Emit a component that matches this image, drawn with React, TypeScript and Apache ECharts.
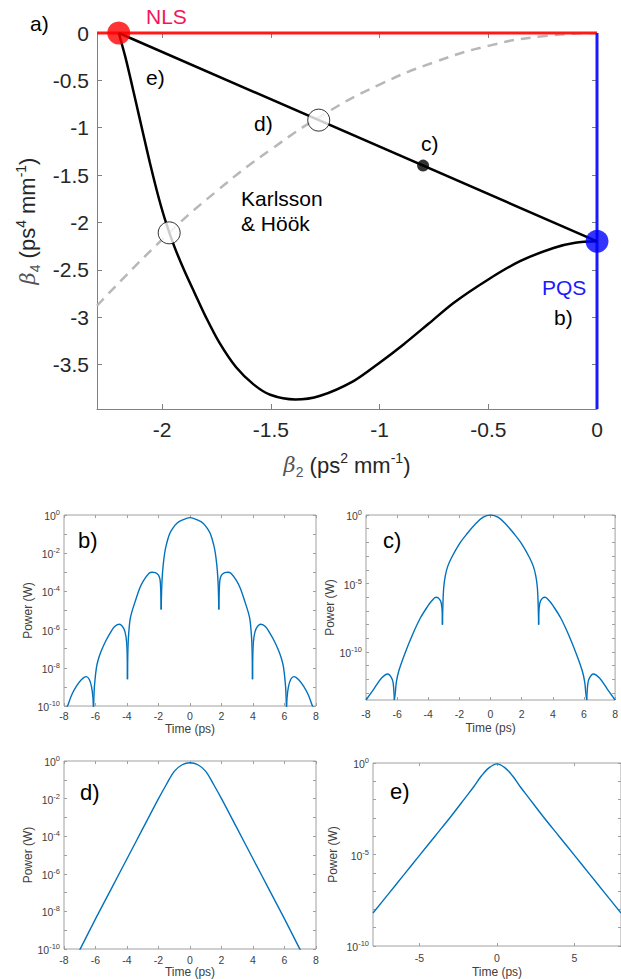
import React, { useEffect, useRef } from 'react';
import * as echarts from 'echarts';

// ---------- main panel a) data ----------
const khBeta2 = [-2.2, -2.17, -2.144, -2.119, -2.094, -2.069, -2.043, -2.015, -1.983, -1.945, -1.9, -1.85, -1.799, -1.737, -1.66, -1.58, -1.503, -1.388, -1.273, -1.12, -1.0, -0.89, -0.775, -0.66, -0.5, -0.354, -0.2, -0.1, 0];
const khBeta4 = [0, -0.25, -0.5, -0.75, -1.0, -1.25, -1.5, -1.75, -2.0, -2.25, -2.5, -2.75, -3.0, -3.27, -3.53, -3.71, -3.82, -3.87, -3.83, -3.675, -3.481, -3.288, -3.07, -2.85, -2.602, -2.409, -2.27, -2.215, -2.2];
const dashBeta2 = [-2.3, -2.0, -1.75, -1.5, -1.25, -1.0, -0.75, -0.5, -0.25, 0];
const dashBeta4 = [-2.88, -2.18, -1.67, -1.23, -0.85, -0.545, -0.31, -0.136, -0.034, 0];
const chordBeta2 = [-2.2, 0];
const chordBeta4 = [0, -2.2];
const nlsLineBeta2 = [-2.3, 0];
const pqsLineBeta4 = [0, -3.97];
const nlsPoint = [-2.2, 0];
const pqsPoint = [0, -2.2];
const openPoints = [[-1.28, -0.92], [-1.968, -2.11]];
const cPoint = [-0.8, -1.4];
const mainXTicks = [-2, -1.5, -1, -0.5, 0];
const mainYTicks = [0, -0.5, -1, -1.5, -2, -2.5, -3, -3.5];

// ---------- panel b) : time (ps), log10 power (W) ----------
const bTime = [-8, -7.8, -7.5, -7.2, -6.9, -6.6, -6.4, -6.25, -6.16, -6.13, -6.09, -6.04, -5.93, -5.8, -5.61, -5.35, -5.08, -4.8, -4.5, -4.2, -4.06, -4.0, -3.97, -3.94, -3.9, -3.81, -3.7, -3.49, -3.2, -2.96, -2.6, -2.4, -2.2, -2.0, -1.9, -1.86, -1.83, -1.8, -1.76, -1.7, -1.6, -1.5, -1.3, -1.1, -0.85, -0.5, 0, 0.5, 0.85, 1.1, 1.3, 1.5, 1.6, 1.7, 1.76, 1.8, 1.83, 1.86, 1.9, 2.0, 2.2, 2.4, 2.6, 2.96, 3.2, 3.49, 3.7, 3.81, 3.9, 3.94, 3.97, 4.0, 4.06, 4.2, 4.5, 4.8, 5.08, 5.35, 5.61, 5.8, 5.93, 6.04, 6.09, 6.13, 6.16, 6.25, 6.4, 6.6, 6.9, 7.2, 7.5, 7.8, 8];
const bLogPower = [-10.4, -10.05, -9.4, -8.95, -8.62, -8.46, -8.6, -9.0, -9.6, -10.4, -9.3, -8.7, -7.94, -7.5, -7.07, -6.6, -6.2, -5.85, -5.72, -5.95, -6.4, -7.0, -8.6, -7.0, -6.3, -5.5, -5.1, -4.55, -3.85, -3.45, -3.05, -3.0, -3.02, -3.15, -3.4, -3.9, -4.95, -3.9, -3.2, -2.6, -1.95, -1.55, -1.0, -0.7, -0.44, -0.27, -0.14, -0.27, -0.44, -0.7, -1.0, -1.55, -1.95, -2.6, -3.2, -3.9, -4.95, -3.9, -3.4, -3.15, -3.02, -3.0, -3.05, -3.45, -3.85, -4.55, -5.1, -5.5, -6.3, -7.0, -8.6, -7.0, -6.4, -5.95, -5.72, -5.85, -6.2, -6.6, -7.07, -7.5, -7.94, -8.7, -9.3, -10.4, -9.6, -9.0, -8.6, -8.46, -8.62, -8.95, -9.4, -10.05, -10.4];

// ---------- panel c) ----------
const cTime = [-8, -7.5, -7.0, -6.6, -6.35, -6.25, -6.18, -6.12, -6.05, -5.9, -5.5, -5.0, -4.5, -4.0, -3.8, -3.5, -3.35, -3.2, -3.12, -3.09, -3.05, -3.0, -2.9, -2.75, -2.5, -2.0, -1.5, -1.0, -0.5, 0, 0.5, 1.0, 1.5, 2.0, 2.5, 2.75, 2.9, 3.0, 3.05, 3.09, 3.12, 3.2, 3.35, 3.5, 3.8, 4.0, 4.5, 5.0, 5.5, 5.9, 6.05, 6.12, 6.18, 6.25, 6.35, 6.6, 7.0, 7.5, 8];
const cLogPower = [-13.5, -12.7, -11.9, -11.6, -11.9, -12.3, -13.5, -13.0, -12.2, -11.4, -10.1, -8.7, -7.5, -6.6, -6.3, -6.0, -6.05, -6.3, -6.8, -8.0, -6.2, -5.2, -4.4, -3.75, -3.1, -2.1, -1.35, -0.7, -0.18, 0, -0.18, -0.7, -1.35, -2.1, -3.1, -3.75, -4.4, -5.2, -6.2, -8.0, -6.8, -6.3, -6.05, -6.0, -6.3, -6.6, -7.5, -8.7, -10.1, -11.4, -12.2, -13.0, -13.5, -12.3, -11.9, -11.6, -11.9, -12.7, -13.5];

// ---------- panel d) ----------
const dTime = [-8, -7, -6, -5, -4, -3, -2, -1.5, -1, -0.5, 0, 0.5, 1, 1.5, 2, 3, 4, 5, 6, 7, 8];
const dLogPower = [-11.65, -10.05, -8.4, -6.8, -5.2, -3.6, -2.0, -1.25, -0.55, -0.2, -0.09, -0.2, -0.55, -1.25, -2.0, -3.6, -5.2, -6.8, -8.4, -10.05, -11.65];

// ---------- panel e) ----------
const eTime = [-8, -7, -6, -5, -4, -3, -2, -1.5, -1, -0.5, 0, 0.5, 1, 1.5, 2, 3, 4, 5, 6, 7, 8];
const eLogPower = [-8.2, -7.15, -6.1, -5.05, -4.0, -2.95, -1.85, -1.3, -0.7, -0.25, -0.05, -0.25, -0.7, -1.3, -1.85, -2.95, -4.0, -5.05, -6.1, -7.15, -8.2];

const timeTicks = [-8, -6, -4, -2, 0, 2, 4, 6, 8];
const eTimeTicks = [-5, 0, 5];
const bdDecadeLabels = [0, -2, -4, -6, -8, -10];
const ceDecadeLabels = [0, -5, -10];

const FONT = 'Liberation Sans';
const TXT = '#262626';
const BLUE = '#0072BD';

function zip(xs: number[], ys: number[]) {
  return xs.map((x, i) => [x, ys[i]]);
}

function range(a: number, b: number) {
  const r: number[] = [];
  for (let v = a; v >= b; v--) r.push(v);
  return r;
}

// split a curve into lobes at its notches (local minima) so each lobe can be smoothed on its own
function lobes(xs: number[], ys: number[]) {
  const out: number[][][] = [];
  let cur: number[][] = [];
  for (let i = 0; i < xs.length; i++) {
    cur.push([xs[i], ys[i]]);
    const isNotch = i > 0 && i < xs.length - 1 && ys[i] < ys[i - 1] && ys[i] < ys[i + 1];
    if (isNotch) {
      out.push(cur);
      cur = [[xs[i], ys[i]]];
    }
  }
  out.push(cur);
  return out;
}

export default function App() {
  const ref = useRef<HTMLDivElement>(null);
  useEffect(() => {
    document.body.style.margin = '0';
    const chart = echarts.init(ref.current!, null, { renderer: 'svg' });

    const supRich = {
      b: { fontFamily: FONT, fontSize: 10.5, color: '#404040', lineHeight: 13, verticalAlign: 'bottom' },
      s: { fontFamily: FONT, fontSize: 7.5, color: '#404040', lineHeight: 8, verticalAlign: 'top' },
    };
    const powFmt = (v: number) => {
      const n = Math.round(v);
      return '{b|10}{s|' + (n === 0 ? '0' : String(n)) + '}';
    };

    const subGrids = [
      { left: 64, top: 515, width: 252, height: 191 },
      { left: 366, top: 515, width: 256, height: 185 },
      { left: 64, top: 761, width: 252, height: 189 },
      { left: 373, top: 763, width: 249, height: 184 },
    ];
    const subYMin = [-10, -13.5, -10, -10];
    const subYLabels = [bdDecadeLabels, ceDecadeLabels, bdDecadeLabels, ceDecadeLabels];
    const subXTicks = [timeTicks, timeTicks, timeTicks, eTimeTicks];
    const subNameGap = [30, 30, 30, 34];
    const subXLabelMargin = [4, 8, 5, 6];
    const subXNameGap = [17, 22, 17, 20];

    const grids: any[] = [
      { left: 97, top: 33, width: 500, height: 376, show: false },
      ...subGrids.map((g) => ({ ...g, show: true, borderColor: '#a0a0a0', borderWidth: 1, backgroundColor: '#fff' })),
    ];

    const titleRich = {
      i: { fontFamily: 'DejaVu Serif', fontStyle: 'italic', fontSize: 21, color: '#555', lineHeight: 28 },
      t: { fontFamily: FONT, fontSize: 22, color: TXT, lineHeight: 28 },
      sup: { fontFamily: FONT, fontSize: 14, color: TXT, lineHeight: 14, verticalAlign: 'top' },
      sub: { fontFamily: FONT, fontSize: 14, color: '#555', lineHeight: 14, verticalAlign: 'bottom' },
    };

    const xAxes: any[] = [
      {
        gridIndex: 0, type: 'value', min: -2.3, max: 0, position: 'bottom',
        axisLine: { show: true, onZero: false, lineStyle: { color: '#808080', width: 1 } },
        axisTick: { show: true, inside: true, length: 5, customValues: mainXTicks, lineStyle: { color: '#808080' } },
        axisLabel: { customValues: mainXTicks, fontFamily: FONT, fontSize: 21, color: TXT, margin: 10 },
        splitLine: { show: false },
        name: '{i|β}{sub|2}{t| (ps}{sup|2}{t| mm}{sup|-1}{t|)}',
        nameLocation: 'middle', nameGap: 42,
        nameTextStyle: { rich: titleRich },
      },
      {
        gridIndex: 0, type: 'value', min: -2.3, max: 0, position: 'top',
        axisLine: { show: false, onZero: false },
        axisTick: { show: true, inside: true, length: 5, customValues: mainXTicks, lineStyle: { color: '#808080' } },
        axisLabel: { show: false }, splitLine: { show: false },
      },
    ];
    const yAxes: any[] = [
      {
        gridIndex: 0, type: 'value', min: -3.97, max: 0, position: 'left',
        axisLine: { show: true, onZero: false, lineStyle: { color: '#808080', width: 1 } },
        axisTick: { show: true, inside: true, length: 5, customValues: mainYTicks, lineStyle: { color: '#808080' } },
        axisLabel: { customValues: mainYTicks, fontFamily: FONT, fontSize: 21, color: TXT, margin: 8 },
        splitLine: { show: false },
        name: '{i|β}{sub|4}{t| (ps}{sup|4}{t| mm}{sup|-1}{t|)}',
        nameLocation: 'middle', nameGap: 54, nameRotate: 90,
        nameTextStyle: { rich: titleRich },
      },
      {
        gridIndex: 0, type: 'value', min: -3.97, max: 0, position: 'right',
        axisLine: { show: false, onZero: false },
        axisTick: { show: true, inside: true, length: 5, customValues: mainYTicks, lineStyle: { color: '#808080' } },
        axisLabel: { show: false }, splitLine: { show: false },
      },
    ];

    subGrids.forEach((_, k) => {
      const gi = k + 1;
      const yMin = subYMin[k];
      const decTicks = range(0, Math.ceil(yMin));
      xAxes.push({
        gridIndex: gi, type: 'value', min: -8, max: 8, position: 'bottom',
        axisLine: { show: false, onZero: false },
        axisTick: { show: true, inside: true, length: 3, customValues: subXTicks[k], lineStyle: { color: '#a0a0a0' } },
        axisLabel: { customValues: subXTicks[k], fontFamily: FONT, fontSize: 10.5, color: '#404040', margin: subXLabelMargin[k] },
        splitLine: { show: false },
        name: 'Time (ps)', nameLocation: 'middle', nameGap: subXNameGap[k],
        nameTextStyle: { fontFamily: FONT, fontSize: 12, color: '#404040' },
      });
      xAxes.push({
        gridIndex: gi, type: 'value', min: -8, max: 8, position: 'top',
        axisLine: { show: false, onZero: false },
        axisTick: { show: true, inside: true, length: 3, customValues: subXTicks[k], lineStyle: { color: '#a0a0a0' } },
        axisLabel: { show: false }, splitLine: { show: false },
      });
      yAxes.push({
        gridIndex: gi, type: 'value', min: yMin, max: 0, position: 'left',
        axisLine: { show: false, onZero: false },
        axisTick: { show: true, inside: true, length: 3, customValues: decTicks, lineStyle: { color: '#a0a0a0' } },
        axisLabel: { customValues: subYLabels[k], formatter: powFmt, rich: supRich, margin: 4 },
        splitLine: { show: false },
        name: 'Power (W)', nameLocation: 'middle', nameGap: subNameGap[k], nameRotate: 90,
        nameTextStyle: { fontFamily: FONT, fontSize: 12, color: '#404040' },
      });
      yAxes.push({
        gridIndex: gi, type: 'value', min: yMin, max: 0, position: 'right',
        axisLine: { show: false, onZero: false },
        axisTick: { show: true, inside: true, length: 3, customValues: decTicks, lineStyle: { color: '#a0a0a0' } },
        axisLabel: { show: false }, splitLine: { show: false },
      });
    });

    const subCurves = [lobes(bTime, bLogPower), lobes(cTime, cLogPower), [zip(dTime, dLogPower)], [zip(eTime, eLogPower)]];

    const series: any[] = [
      { type: 'line', xAxisIndex: 0, yAxisIndex: 0, data: zip(dashBeta2, dashBeta4), smooth: 0.5, showSymbol: false, lineStyle: { color: '#b8b8b8', width: 2.5, type: [10, 7] }, z: 2 },
      { type: 'line', xAxisIndex: 0, yAxisIndex: 0, data: zip(nlsLineBeta2, [0, 0]), showSymbol: false, lineStyle: { color: '#ff1a1a', width: 3 }, z: 3, clip: false },
      { type: 'line', xAxisIndex: 0, yAxisIndex: 0, data: zip([0, 0], pqsLineBeta4), showSymbol: false, lineStyle: { color: '#1a1aff', width: 3 }, z: 3, clip: false },
      { type: 'line', xAxisIndex: 0, yAxisIndex: 0, data: zip(chordBeta2, chordBeta4), showSymbol: false, lineStyle: { color: '#000', width: 2.5 }, z: 4 },
      { type: 'line', xAxisIndex: 0, yAxisIndex: 0, data: zip(khBeta2, khBeta4), smooth: 0.3, showSymbol: false, lineStyle: { color: '#000', width: 2.5 }, z: 4 },
      { type: 'scatter', xAxisIndex: 0, yAxisIndex: 0, data: [nlsPoint], symbolSize: 23, itemStyle: { color: '#ff0000' }, z: 6, clip: false },
      { type: 'scatter', xAxisIndex: 0, yAxisIndex: 0, data: [pqsPoint], symbolSize: 23, itemStyle: { color: '#0000ff' }, z: 6, clip: false },
      { type: 'scatter', xAxisIndex: 0, yAxisIndex: 0, data: openPoints, symbolSize: 22, itemStyle: { color: '#fff', borderColor: '#000', borderWidth: 1 }, z: 6 },
      { type: 'scatter', xAxisIndex: 0, yAxisIndex: 0, data: [cPoint], symbolSize: 12, itemStyle: { color: '#000' }, z: 6 },
    ];
    subCurves.forEach((segs, k) => {
      segs.forEach((seg) => {
        series.push({
          type: 'line', xAxisIndex: 2 + 2 * k, yAxisIndex: 2 + 2 * k, data: seg, smooth: 0.35,
          showSymbol: false, clip: true, lineStyle: { color: BLUE, width: 1.4 },
        });
      });
    });

    const txt = (text: string, x: number, y: number, size: number, fill = '#000') => ({
      type: 'text', x, y, z: 10,
      style: { text, fontFamily: FONT, fontSize: size, fill, verticalAlign: 'middle', align: 'left' },
    });

    chart.setOption({
      animation: false,
      backgroundColor: '#fff',
      grid: grids,
      xAxis: xAxes,
      yAxis: yAxes,
      series,
      graphic: [
        txt('a)', 30, 23, 21),
        txt('NLS', 146, 16, 21, '#f5145a'),
        txt('e)', 146, 77, 21),
        txt('d)', 254, 123, 21),
        txt('c)', 421, 143, 21),
        txt('Karlsson', 241, 198, 21),
        txt('& Höök', 241, 223, 21),
        txt('PQS', 542, 287, 21, '#1a1aff'),
        txt('b)', 554, 317, 21),
        txt('b)', 78, 540, 22),
        txt('c)', 383, 540, 22),
        txt('d)', 80, 792, 22),
        txt('e)', 390, 791, 22),
      ],
    });
    return () => chart.dispose();
  }, []);
  return <div ref={ref} style={{ width: 621, height: 979 }} />;
}
